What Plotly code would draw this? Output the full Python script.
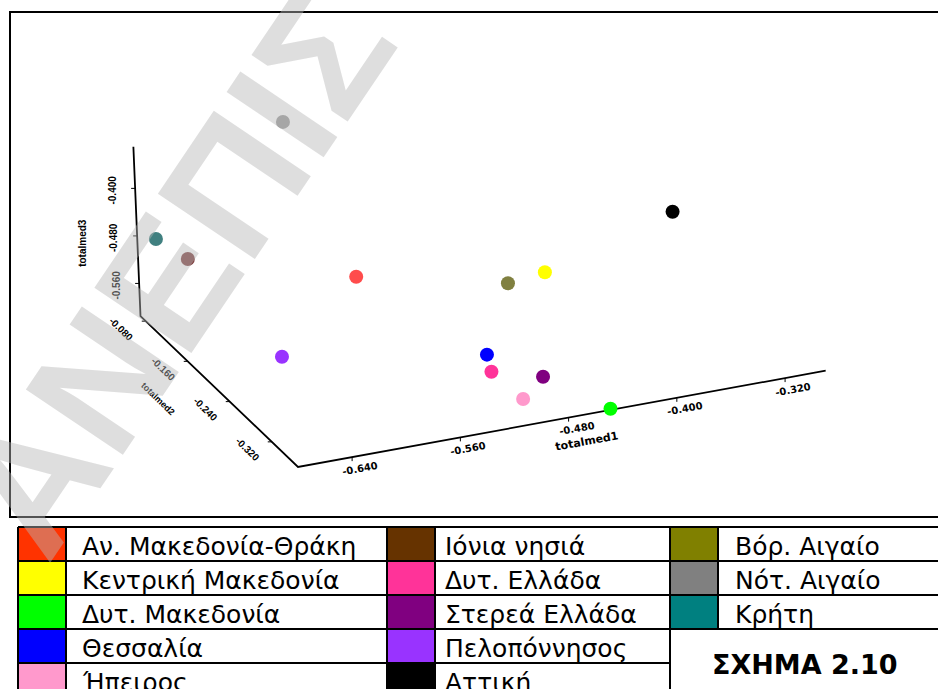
import plotly.graph_objects as go

# ---- data -------------------------------------------------------------
regions = [
    "Αν. Μακεδονία-Θράκη", "Κεντρική Μακεδονία", "Δυτ. Μακεδονία", "Θεσσαλία", "Ήπειρος",
    "Ιόνια νησιά", "Δυτ. Ελλάδα", "Στερεά Ελλάδα", "Πελοπόννησος", "Αττική",
    "Βόρ. Αιγαίο", "Νότ. Αιγαίο", "Κρήτη",
]
totalmed1 = [-0.576, -0.419, -0.449, -0.501, -0.498, -0.662, -0.513, -0.479, -0.644, -0.305, -0.476, -0.571, -0.670]
totalmed2 = [-0.220, -0.170, -0.370, -0.270, -0.330, -0.120, -0.310, -0.320, -0.250, -0.120, -0.250, -0.074, -0.080]
totalmed3 = [-0.465, -0.565, -0.613, -0.585, -0.610, -0.484, -0.575, -0.589, -0.546, -0.553, -0.492, -0.330, -0.481]

point_colors = ["#ff4c4c", "#ffff00", "#00ff00", "#0000ff", "#ff99cc",
                "#7f3f3f", "#ff3399", "#800080", "#9933ff", "#000000",
                "#808040", "#999999", "#408080"]
legend_colors = ["#ff3300", "#ffff00", "#00ff00", "#0000ff", "#ff99cc",
                 "#663300", "#ff3399", "#800080", "#9933ff", "#000000",
                 "#808000", "#808080", "#008080"]

x_ticks = [-0.64, -0.56, -0.48, -0.40, -0.32]
y_ticks = [-0.32, -0.24, -0.16, -0.08]
z_ticks = [-0.56, -0.48, -0.40]
x_range = [-0.68, -0.29]
y_range = [-0.37, -0.07]
z_range = [-0.615, -0.33]
figure_label = "ΣΧΗΜΑ 2.10"
watermark = "ΑΝΕΠΙΣ"

# ---- oblique 3D projection onto the page (page units = px) ------------
W, H = 938, 689
ORIGIN = (298.0, 467.0)
EX = (1353.0, -247.0)
EY = (-525.0, -503.0)
EZ = (-25.0, -594.0)


def project(x, y, z):
    dx, dy, dz = x - x_range[0], y - y_range[0], z - z_range[0]
    return (ORIGIN[0] + EX[0] * dx + EY[0] * dy + EZ[0] * dz,
            ORIGIN[1] + EX[1] * dx + EY[1] * dy + EZ[1] * dz)


fig = go.Figure()
annotations = []
shapes = []

# axis lines
x0, y0, z0 = x_range[0], y_range[0], z_range[0]
axis_pts = [
    project(x_range[1], y0, z0), project(x0, y0, z0),
    project(x0, y_range[1], z0), project(x0, y_range[1], z_range[1]),
]
fig.add_trace(go.Scatter(x=[p[0] for p in axis_pts], y=[p[1] for p in axis_pts],
                         mode="lines", line=dict(color="black", width=1.8),
                         hoverinfo="skip", showlegend=False))

# tick stubs
tx, ty = [], []
for v in x_ticks:
    px, py = project(v, y0, z0)
    tx += [px, px, None]
    ty += [py, py + 4, None]
for v in y_ticks:
    px, py = project(x0, v, z0)
    tx += [px, px - 4, None]
    ty += [py, py, None]
for v in z_ticks:
    px, py = project(x0, y_range[1], v)
    tx += [px, px - 4, None]
    ty += [py, py, None]
fig.add_trace(go.Scatter(x=tx, y=ty, mode="lines", line=dict(color="black", width=1),
                         hoverinfo="skip", showlegend=False))

# tick labels
lab_font_x = dict(family="DejaVu Sans", size=10, color="black", weight="bold")
lab_font = dict(family="Liberation Sans", size=10, color="black", weight="bold")
for v in x_ticks:
    px, py = project(v, y0, z0)
    annotations.append(dict(x=px + 8, y=py + 11, text=f"{v:.3f}", textangle=-10.3,
                            showarrow=False, font=lab_font_x))
for v in y_ticks:
    px, py = project(x0, v, z0)
    annotations.append(dict(x=px - 24, y=py + 8, text=f"{v:.3f}", textangle=44,
                            showarrow=False, font=lab_font))
for v in z_ticks:
    px, py = project(x0, y_range[1], v)
    annotations.append(dict(x=px - 23, y=py + 2, text=f"{v:.3f}", textangle=-90,
                            showarrow=False, font=lab_font))

# axis titles
px, py = project(-0.46, y0, z0)
annotations.append(dict(x=px - 9, y=py + 29, text="totalmed1", textangle=-10.3, showarrow=False,
                        font=dict(family="DejaVu Sans", size=11, color="black", weight="bold")))
px, py = project(x0, -0.22, z0)
annotations.append(dict(x=px - 61, y=py + 7, text="totalmed2", textangle=44, showarrow=False,
                        font=dict(family="Liberation Sans", size=9, color="black", weight="bold")))
px, py = project(x0, y_range[1], -0.47)
annotations.append(dict(x=px - 54, y=py + 13, text="totalmed3", textangle=-90, showarrow=False,
                        font=dict(family="Liberation Sans", size=10, color="black", weight="bold")))

# data points
pts = [project(a, b, c) for a, b, c in zip(totalmed1, totalmed2, totalmed3)]
fig.add_trace(go.Scatter(
    x=[p[0] for p in pts], y=[p[1] for p in pts], mode="markers",
    marker=dict(size=14, color=point_colors, line=dict(width=0)),
    text=regions, customdata=list(zip(totalmed1, totalmed2, totalmed3)),
    hovertemplate="%{text}<br>totalmed1=%{customdata[0]}<br>totalmed2=%{customdata[1]}"
                  "<br>totalmed3=%{customdata[2]}<extra></extra>",
    showlegend=False))

# chart frame
shapes.append(dict(type="rect", xref="x", yref="y", x0=10, y0=12, x1=W + 10, y1=517,
                   line=dict(color="black", width=2), fillcolor="rgba(0,0,0,0)"))

# ---- legend table -----------------------------------------------------
table_top, row_h = 527, 34
col_edges = [18, 66, 387, 435, 670, 718]
text_x = [80, 443, 733]
n_rows = 5
for i, (name, col) in enumerate(zip(regions, legend_colors)):
    c, r = divmod(i, n_rows)
    sx0 = col_edges[2 * c]
    sx1 = col_edges[2 * c + 1]
    ry0 = table_top + r * row_h
    shapes.append(dict(type="rect", xref="x", yref="y", x0=sx0, x1=sx1, y0=ry0, y1=ry0 + row_h,
                       fillcolor=col, line=dict(width=0), layer="above"))
    annotations.append(dict(x=text_x[c], y=ry0 + row_h / 2 + 2, text=name, xanchor="left",
                            yanchor="middle", showarrow=False,
                            font=dict(family="DejaVu Sans", size=25, color="black")))

table_bottom = table_top + n_rows * row_h
grid = dict(color="black", width=2)
for r in range(n_rows):
    yy = table_top + r * row_h
    x_end = W + 10 if r <= 3 else col_edges[4]
    shapes.append(dict(type="line", xref="x", yref="y", x0=col_edges[0], x1=x_end, y0=yy, y1=yy, line=grid))
for k, xx in enumerate(col_edges):
    y_end = table_bottom if k != 5 else table_top + 3 * row_h
    shapes.append(dict(type="line", xref="x", yref="y", x0=xx, x1=xx, y0=table_top, y1=y_end, line=grid))

annotations.append(dict(x=805, y=664, text=figure_label, showarrow=False, xanchor="center",
                        yanchor="middle",
                        font=dict(family="DejaVu Sans", size=27, color="black", weight="bold")))

# watermark across the page
annotations.append(dict(x=175, y=272, text=watermark, textangle=-56, showarrow=False,
                        xanchor="center", yanchor="middle",
                        font=dict(family="Liberation Sans", size=170, color="rgba(182,182,182,0.45)",
                                  weight="bold")))

fig.update_layout(
    width=W, height=H, margin=dict(l=0, r=0, t=0, b=0),
    paper_bgcolor="white", plot_bgcolor="white",
    xaxis=dict(range=[0, W], visible=False, fixedrange=True),
    yaxis=dict(range=[H, 0], visible=False, fixedrange=True),
    shapes=shapes, annotations=annotations, showlegend=False,
)

fig.write_html("out.html", config={"displayModeBar": False})
